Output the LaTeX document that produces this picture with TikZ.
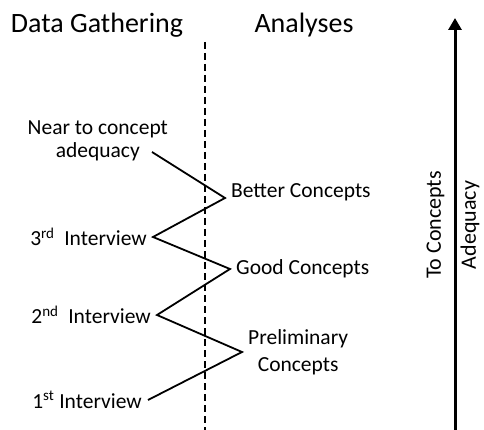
\documentclass[tikz,border=0pt]{standalone}
\usepackage{fontspec}
\setmainfont{Carlito}
\usetikzlibrary{arrows.meta,positioning}

\begin{document}
\begin{tikzpicture}
	[x=1pt,y=-1pt,
	head/.style={font=\fontsize{28}{34}\selectfont,inner sep=0pt},
	lbl/.style={font=\fontsize{21.5}{26}\selectfont,inner ysep=0pt,inner xsep=6pt},
	zig/.style={line width=1.8pt},
	divider/.style={line width=2pt,dash pattern=on 7pt off 4pt},
	axis/.style={line width=3pt,-{Triangle[length=12pt,width=13pt]}}]
	\useasboundingbox (0,0) rectangle (484,430);
	\node[head] (dg) at (97,25) {Data Gathering};
	\node[head] (an) at (304,25) {Analyses};
	\coordinate (dtop) at (205,42);
	\coordinate (dbot) at (205,430);
	\draw[divider] (dtop) -- (dbot);
	\coordinate (abot) at (455,430);
	\coordinate (atop) at (455,18);
	\draw[axis] (abot) -- (atop);
	\node[lbl,font=\fontsize{22}{26}\selectfont,rotate=90,align=center] (goal) at (453,225) {To Concepts\\[9pt]Adequacy};
	\node[lbl,anchor=east,inner xsep=12pt] (adeq) at (152,152) {adequacy};
	\node[lbl,above=4pt of adeq] (near) {Near to concept};
	\node[lbl,anchor=base west] (better) at (225,198) {Better Concepts};
	\node[lbl,anchor=east] (third) at (153,237) {3\textsuperscript{rd}\ \ Interview};
	\node[lbl,anchor=west] (good) at (230,269) {Good Concepts};
	\node[lbl,anchor=east] (second) at (157,315) {2\textsuperscript{nd}\ \ Interview};
	\node[lbl,anchor=west,align=center] (prelim) at (242,352) {Preliminary\\[1pt]Concepts};
	\node[lbl,anchor=east] (first) at (148,400) {1\textsuperscript{st} Interview};
	\draw[zig] (adeq.east) -- (better.base west) -- (third.east) -- (good.west)
		-- (second.east) -- (prelim.west) -- (first.east);
\end{tikzpicture}
\end{document}
